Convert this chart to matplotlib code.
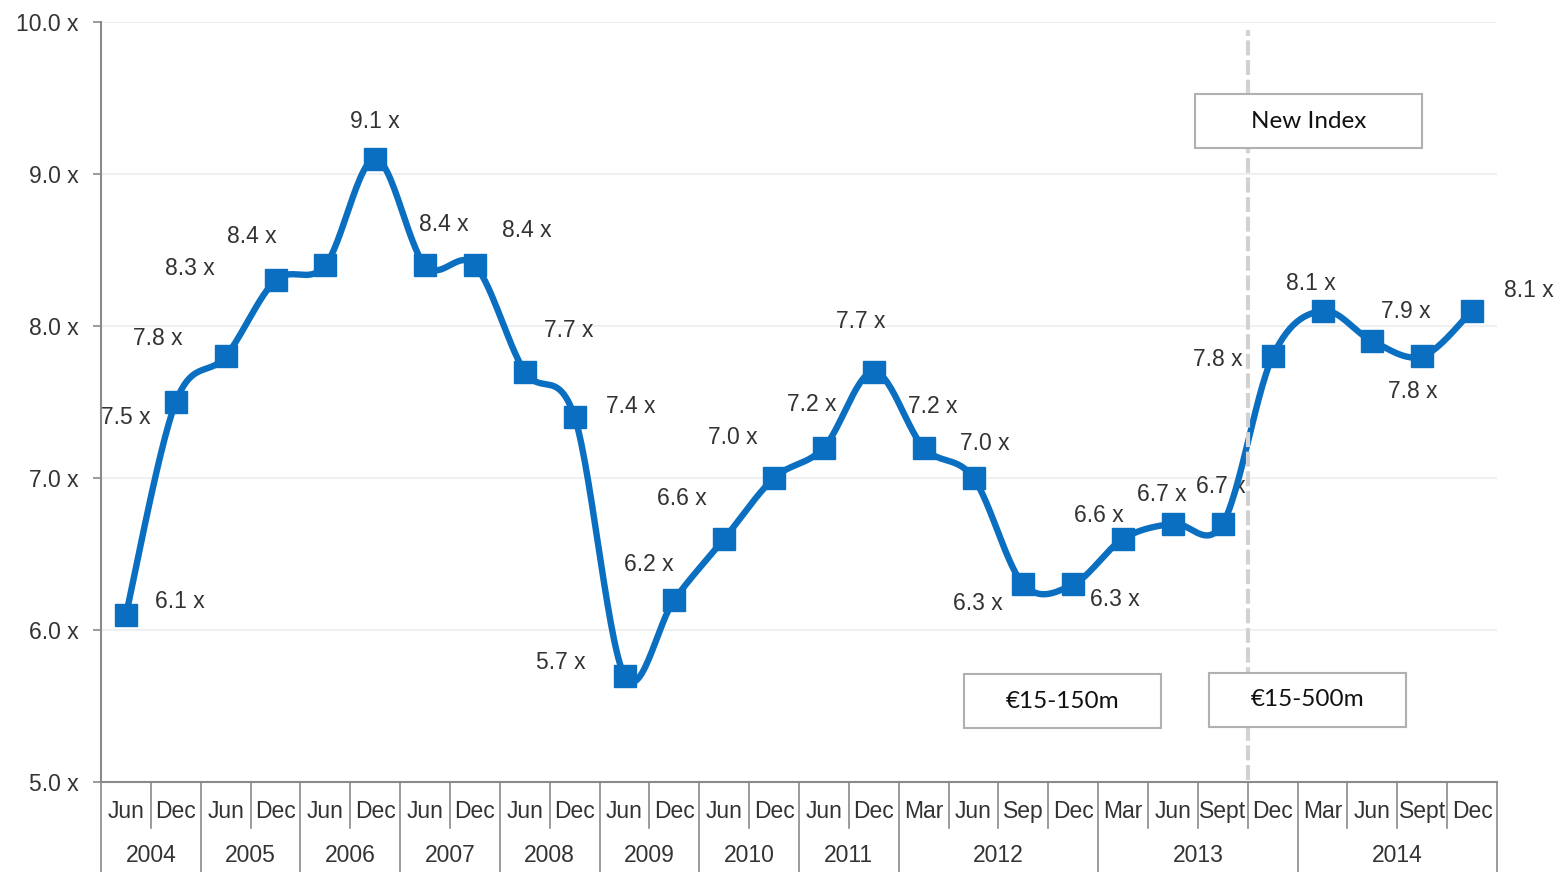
import numpy as np
import matplotlib
matplotlib.use("Agg")
import matplotlib.pyplot as plt
from matplotlib.patches import Rectangle
from matplotlib.transforms import blended_transform_factory

# ---- data -------------------------------------------------------------
periods = ["Jun", "Dec", "Jun", "Dec", "Jun", "Dec", "Jun", "Dec",
           "Jun", "Dec", "Jun", "Dec", "Jun", "Dec", "Jun", "Dec",
           "Mar", "Jun", "Sep", "Dec", "Mar", "Jun", "Sept", "Dec",
           "Mar", "Jun", "Sept", "Dec"]
years = ["2004", "2005", "2006", "2007", "2008", "2009", "2010", "2011",
         "2012", "2013", "2014"]
periods_per_year = [2, 2, 2, 2, 2, 2, 2, 2, 4, 4, 4]
multiples = [6.1, 7.5, 7.8, 8.3, 8.4, 9.1, 8.4, 8.4, 7.7, 7.4, 5.7, 6.2,
             6.6, 7.0, 7.2, 7.7, 7.2, 7.0, 6.3, 6.3, 6.6, 6.7, 6.7, 7.8,
             8.1, 7.9, 7.8, 8.1]
y_ticks = [5.0, 6.0, 7.0, 8.0, 9.0, 10.0]
new_index_start = 23          # index of first period on the new index
band_labels = ["€15-150m", "€15-500m"]
new_index_label = "New Index"

# ---- layout (label offsets in pixels: dx, dy) --------------------------
label_offsets = [(54, 13), (-50, -15), (-68, 18), (-86, 12), (-74, 29),
                 (0, 37), (19, 41), (52, 35), (44, 41), (56, 11),
                 (-64, 13), (-26, 35), (-42, 40), (-41, 41), (-12, 43),
                 (-13, 50), (9, 41), (11, 35), (-45, -19), (42, -15),
                 (-24, 23), (-11, 29), (-2, 37), (-55, -3), (-12, 27),
                 (33, 30), (-9, -35), (57, 20)]

BLUE = "#0b6fc1"
TEXT = "#333333"
AXIS = "#8a8a8a"
FONT = "Liberation Sans"

W, H = 1565, 872
fig = plt.figure(figsize=(W / 100, H / 100), dpi=100)
ax = fig.add_axes([101 / W, 90 / H, 1396 / W, 760 / H])

n = len(multiples)
x = np.arange(n) + 0.5
y = np.array(multiples)


def smooth(xs, ys, steps=30):
    """Bezier smoothing through every point (Catmull-Rom style)."""
    px = np.concatenate([[xs[0]], xs, [xs[-1]]])
    py = np.concatenate([[ys[0]], ys, [ys[-1]]])
    out_x, out_y = [], []
    t = np.linspace(0, 1, steps)
    for i in range(1, len(px) - 2):
        p0 = np.array([px[i], py[i]])
        p3 = np.array([px[i + 1], py[i + 1]])
        c1 = p0 + (p3 - np.array([px[i - 1], py[i - 1]])) / 6
        c2 = p3 - (np.array([px[i + 2], py[i + 2]]) - p0) / 6
        b = ((1 - t) ** 3)[:, None] * p0 + (3 * (1 - t) ** 2 * t)[:, None] * c1 \
            + (3 * (1 - t) * t ** 2)[:, None] * c2 + (t ** 3)[:, None] * p3
        out_x.extend(b[:, 0])
        out_y.extend(b[:, 1])
    return np.array(out_x), np.array(out_y)


sx, sy = smooth(x, y)
ax.plot(sx, sy, color=BLUE, lw=4.6, solid_capstyle="round", zorder=4)
ax.plot(x, y, linestyle="none", marker="s", markersize=16,
        color=BLUE, zorder=5)

for xi, yi, (dx, dy) in zip(x, y, label_offsets):
    ax.annotate(f"{yi:.1f} x", (xi, yi), xytext=(dx, dy),
                textcoords="offset pixels", ha="center", va="center",
                fontsize=16.5, color=TEXT, family=FONT, zorder=3)

# axes
ax.set_xlim(0, n)
ax.set_ylim(5, 10)
ax.set_yticks(y_ticks)
ax.set_yticklabels([f"{v:.1f} x" for v in y_ticks], family=FONT,
                   fontsize=16.5, color=TEXT)
ax.tick_params(axis="y", length=6, width=1.2, color=AXIS, pad=10)
ax.set_xticks([])
for s in ("top", "right"):
    ax.spines[s].set_visible(False)
for s in ("left", "bottom"):
    ax.spines[s].set_color(AXIS)
    ax.spines[s].set_linewidth(1.5)
ax.grid(axis="y", color="#ececec", lw=1.2, zorder=0)
ax.set_axisbelow(True)

# category axis: period row and year row with separators
tr = blended_transform_factory(ax.transData, ax.transAxes)
row1 = -29 / 760
row2 = -73 / 760
short_end = -46 / 760
full_end = -90 / 760
for i, p in enumerate(periods):
    ax.text(i + 0.5, row1, p, transform=tr, ha="center", va="center",
            fontsize=16.5, color=TEXT, family=FONT, clip_on=False)
year_edges = np.concatenate([[0], np.cumsum(periods_per_year)])
for j, yr in enumerate(years):
    mid = (year_edges[j] + year_edges[j + 1]) / 2
    ax.text(mid, row2, yr, transform=tr, ha="center", va="center",
            fontsize=16.5, color=TEXT, family=FONT, clip_on=False)
for k in range(n + 1):
    end = full_end if k in year_edges else short_end
    ax.plot([k, k], [0, end], transform=tr, color=AXIS, lw=1.2,
            clip_on=False, zorder=2)

# new-index divider
ax.plot([new_index_start, new_index_start], [5.013, 9.947],
        color="#d2d2d2", lw=3.0, dashes=(3.6, 1.1), zorder=6,
        solid_capstyle="butt")

# annotation boxes
boxes = [((21.94, 9.171), 4.56, 0.355, new_index_label),
         ((17.31, 5.355), 3.95, 0.355, band_labels[0]),
         ((22.23, 5.362), 3.95, 0.355, band_labels[1])]
for (bx, by), bw, bh, txt in boxes:
    ax.add_patch(Rectangle((bx, by), bw, bh, facecolor="white",
                           edgecolor="#b0b0b0", lw=1.5, zorder=7))
    ax.text(bx + bw / 2, by + bh / 2, txt, ha="center", va="center",
            fontsize=17.5, color="#111111", family="Lato", zorder=8)

fig.savefig("out.png", dpi=100)
